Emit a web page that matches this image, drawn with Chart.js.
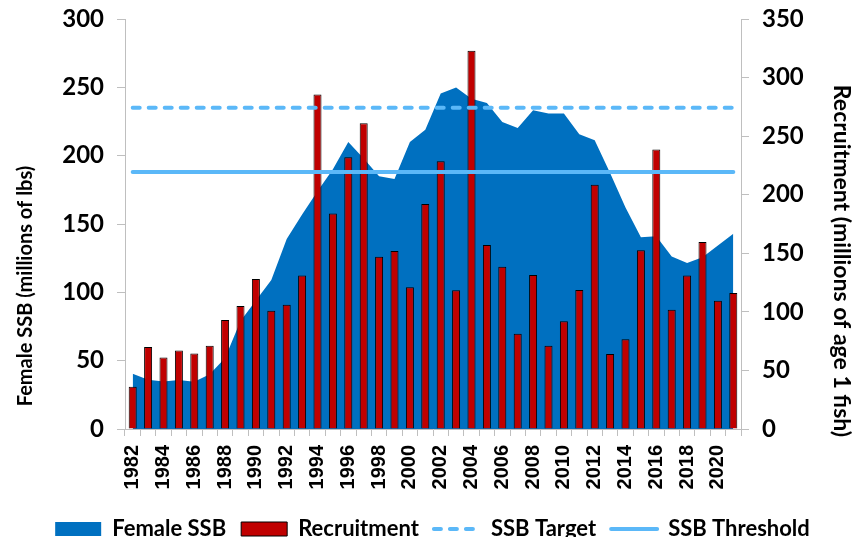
<!DOCTYPE html>
<html>
<head>
<meta charset="utf-8">
<script src="https://cdn.jsdelivr.net/npm/chart.js@4.4.1/dist/chart.umd.min.js"></script>
<style>
  html, body { margin:0; padding:0; background:#fff; }
  #wrap { width:865px; height:537px; position:relative; }
</style>
</head>
<body>
<div id="wrap"><canvas id="chart"></canvas></div>
<script>
// ── data ──
const years = [1982,1983,1984,1985,1986,1987,1988,1989,1990,1991,
               1992,1993,1994,1995,1996,1997,1998,1999,2000,2001,
               2002,2003,2004,2005,2006,2007,2008,2009,2010,2011,
               2012,2013,2014,2015,2016,2017,2018,2019,2020,2021];

// Female SSB (millions of lbs) – left axis
const femaleSSB = [40.5,36,34.7,35.9,34.5,40,52,79,94,109,
                   139,157,174,190,210,198,185,183,210,219,
                   245.5,249.8,241.6,238.6,224.7,220.3,233.3,230.8,230.8,215.7,
                   211.3,187.3,162,140.3,141,126.2,121.5,125.7,134.2,142.8];

// Recruitment (millions of age 1 fish) – right axis
const recruitment = [36,70,61,67,64.5,71,93,105,128,101,
                     106,131,285.5,184,232,261,147,152,121,192,
                     228.5,118.4,323,157,138.6,81.3,131.5,71,92,118.7,
                     208.5,64,76.7,152.6,238.7,101.8,131,159.7,109.5,116];

const ssbTarget    = 235;
const ssbThreshold = 188;

const leftTicks  = [0,50,100,150,200,250,300];
const rightTicks = [0,50,100,150,200,250,300,350];

/* ─────────────────────────────────────────── */

const BLUE  = '#0070C0';
const RED   = '#C00000';
const LINE  = '#5BB8F8';
const AXIS  = '#BFBFBF';

Chart.defaults.font.family = 'Lato, "Open Sans", sans-serif';
Chart.defaults.font.weight = 'bold';
Chart.defaults.color = '#000';

// fixed legend height so the plot bottom lands where the original has it
const legendFix = {
  id: 'legendFix',
  beforeInit(chart){
    const fit = chart.legend.fit;
    chart.legend.fit = function(){ fit.call(this); this.height = 34; };
  }
};

// the original's axis titles sit a bit below the middle of the axis
const titleShift = {
  id: 'titleShift',
  afterLayout(chart){
    [['y', 62], ['y2', 37]].forEach(([id, dy]) => {
      const s = chart.scales[id];
      if(!s || s._shifted) return;
      const orig = s.drawTitle;
      s.drawTitle = function(){
        this.ctx.save(); this.ctx.translate(0, dy);
        orig.apply(this, arguments);
        this.ctx.restore();
      };
      s._shifted = true;
    });
  }
};

// no extra room for the half-height of the top tick label
function noLabelPad(scale){ scale.paddingTop = 0; scale.paddingBottom = 0; }

new Chart(document.getElementById('chart'), {
  data: {
    labels: years,
    datasets: [
      { type:'line', label:'Female SSB', data: femaleSSB, yAxisID:'y',
        backgroundColor: BLUE, borderColor: BLUE, borderWidth: 0, fill: 'origin',
        pointRadius: 0, tension: 0, order: 3 },
      { type:'bar', label:'Recruitment', data: recruitment, yAxisID:'y2',
        backgroundColor: RED, borderColor: '#000', borderWidth: 1,
        barPercentage: 0.52, categoryPercentage: 1, order: 2 },
      { type:'line', label:'SSB Target', data: years.map(() => ssbTarget), yAxisID:'y',
        borderColor: LINE, borderWidth: 4, borderDash: [7,9], borderCapStyle: 'round',
        pointRadius: 0, fill: false, order: 1 },
      { type:'line', label:'SSB Threshold', data: years.map(() => ssbThreshold), yAxisID:'y',
        borderColor: LINE, borderWidth: 4, borderCapStyle: 'round',
        pointRadius: 0, fill: false, order: 0 }
    ]
  },
  options: {
    responsive: true, maintainAspectRatio: false, animation: false,
    layout: { padding: { top: 19, left: 0, right: 0, bottom: 0 } },
    plugins: {
      tooltip: { enabled: false },
      legend: {
        position: 'bottom',
        labels: {
          usePointStyle: true, pointStyleWidth: 46, boxWidth: 40, boxHeight: 14,
          padding: 15, font: { size: 22, weight: 'bold' }, color: '#000',
          sort: (a, b) => a.datasetIndex - b.datasetIndex,
          generateLabels(chart){
            const items = Chart.defaults.plugins.legend.labels.generateLabels(chart);
            const style = [
              { pointStyle:'rect', fillStyle:BLUE, strokeStyle:BLUE, lineWidth:0 },
              { pointStyle:'rect', fillStyle:RED,  strokeStyle:'#000', lineWidth:1 },
              { pointStyle:'line', fillStyle:LINE, strokeStyle:LINE, lineWidth:4, lineDash:[7,9], lineCap:'round' },
              { pointStyle:'line', fillStyle:LINE, strokeStyle:LINE, lineWidth:4, lineDash:[], lineCap:'round' }
            ];
            items.forEach(it => Object.assign(it, style[it.datasetIndex]));
            return items;
          }
        }
      }
    },
    scales: {
      x: {
        type: 'category', offset: true,
        grid: { display: true, drawOnChartArea: false, offset: true, tickLength: 7, color: AXIS },
        border: { color: AXIS },
        ticks: {
          autoSkip: false, maxRotation: 90, minRotation: 90, padding: 9,
          font: { family: '"Liberation Sans", Arial, sans-serif', size: 20, weight: 'bold' },
          callback: (v, i) => i % 2 === 0 ? String(years[i]) : ''
        },
        afterFit(scale){ scale.height = 74; }
      },
      y: {
        position: 'left', min: 0, max: 300,
        afterBuildTicks(scale){ scale.ticks = leftTicks.map(v => ({ value: v })); },
        grid: { drawOnChartArea: false, tickLength: 8, color: AXIS },
        border: { color: AXIS },
        ticks: { padding: 13, font: { size: 24, weight: 'bold' } },
        title: { display: true, text: 'Female SSB (millions of lbs)', font: { size: 20, weight: 'bold' }, padding: { top: 14, bottom: 0 } },
        afterFit(scale){ scale.width = 125; noLabelPad(scale); }
      },
      y2: {
        position: 'right', min: 0, max: 350,
        afterBuildTicks(scale){ scale.ticks = rightTicks.map(v => ({ value: v })); },
        grid: { drawOnChartArea: false, tickLength: 8, color: AXIS },
        border: { color: AXIS },
        ticks: { padding: 13, font: { size: 24, weight: 'bold' } },
        title: { display: true, text: 'Recruitment (millions of age 1 fish)', font: { size: 23, weight: 'bold' }, padding: { top: 10, bottom: 0 } },
        afterFit(scale){ scale.width = 124; noLabelPad(scale); }
      }
    }
  },
  plugins: [legendFix, titleShift]
});
</script>
</body>
</html>
